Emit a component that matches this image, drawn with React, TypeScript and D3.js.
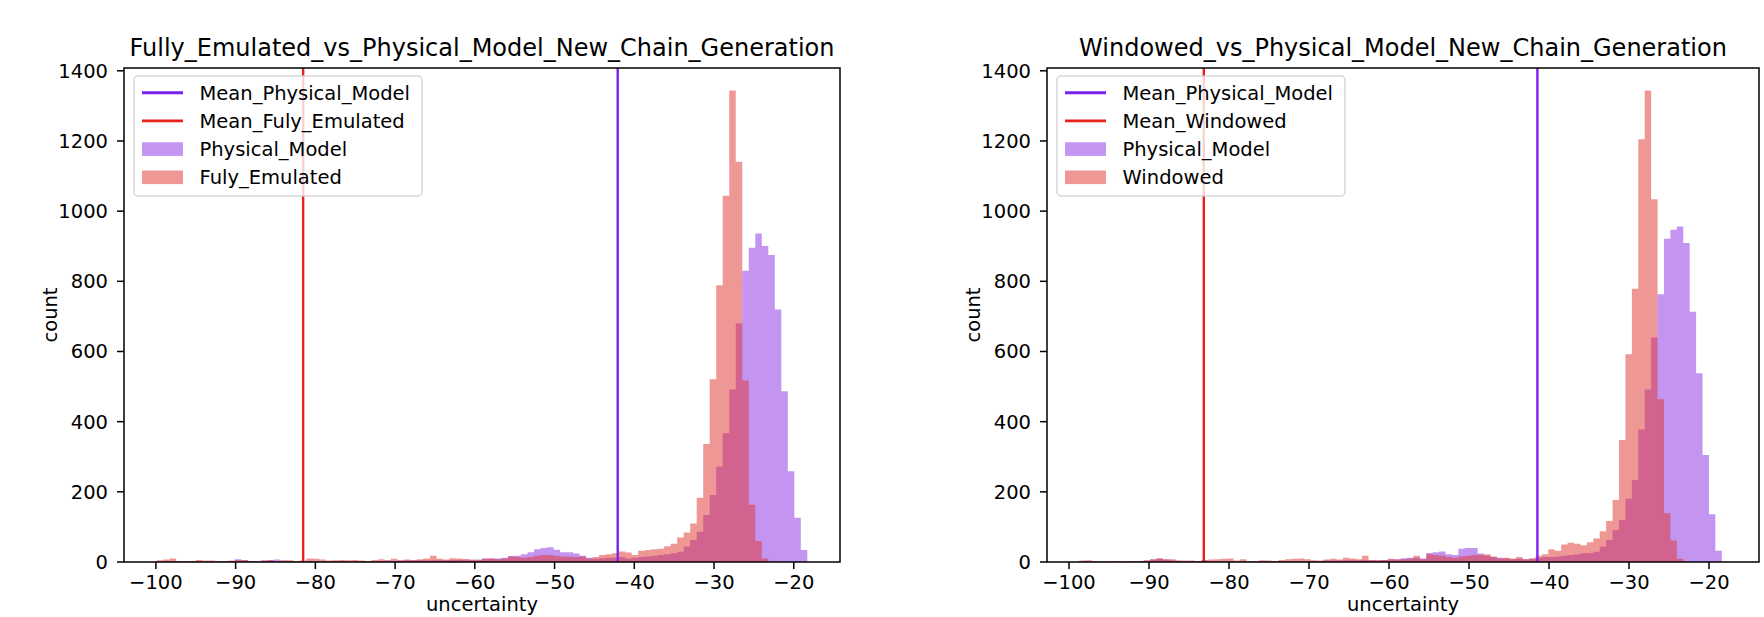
import React from 'react'
import * as d3 from 'd3'

// histogram bin setup (100 bins each panel)
const emulatedBinStart = -99.9
const emulatedBinWidth = 0.816
const windowedBinStart = -98.7
const windowedBinWidth = 0.803

const xTicks = [-100, -90, -80, -70, -60, -50, -40, -30, -20]
const yTicks = [0, 200, 400, 600, 800, 1000, 1200, 1400]

// left panel counts
const physicalLeft = [
  2, 3, 2, 2, 1, 2, 2, 1, 2, 1,
  2, 3, 8, 5, 3, 2, 4, 6, 7, 4,
  3, 2, 2, 3, 2, 2, 3, 2, 2, 2,
  1, 3, 2, 2, 3, 4, 3, 4, 5, 4,
  5, 4, 5, 6, 5, 6, 6, 7, 5, 7,
  10, 9, 10, 12, 17, 18, 22, 28, 36, 40,
  42, 35, 28, 28, 24, 18, 12, 9, 11, 12,
  12, 14, 10, 12, 14, 16, 18, 20, 22, 25,
  29, 44, 63, 86, 134, 191, 272, 367, 492, 680,
  830, 896, 936, 901, 875, 720, 487, 259, 126, 34,
]
const emulated = [
  5, 7, 10, 3, 2, 3, 6, 4, 4, 3,
  3, 4, 5, 6, 3, 2, 4, 5, 3, 4,
  5, 3, 4, 10, 9, 7, 4, 5, 6, 5,
  6, 4, 3, 6, 8, 5, 9, 5, 7, 6,
  8, 10, 18, 9, 7, 11, 10, 8, 7, 5,
  9, 11, 8, 10, 16, 14, 12, 14, 18, 20,
  20, 18, 16, 15, 14, 16, 10, 14, 20, 22,
  25, 30, 27, 20, 32, 34, 36, 38, 45, 52,
  70, 84, 110, 183, 336, 521, 789, 1044, 1344, 1141,
  517, 163, 60, 10, 0, 0, 0, 0, 0, 0,
]

// right panel counts
const physicalRight = [
  1, 1, 1, 1, 1, 1, 1, 1, 2, 2,
  3, 7, 10, 7, 4, 3, 2, 2, 3, 6,
  2, 2, 2, 2, 1, 2, 1, 1, 2, 2,
  2, 2, 3, 3, 3, 3, 3, 3, 4, 4,
  4, 5, 5, 5, 6, 5, 5, 6, 7, 8,
  11, 12, 12, 10, 26, 28, 30, 22, 20, 38,
  40, 40, 24, 18, 14, 12, 10, 8, 9, 8,
  10, 12, 14, 14, 16, 18, 20, 22, 25, 26,
  29, 44, 63, 91, 120, 180, 234, 378, 492, 640,
  763, 921, 947, 956, 909, 713, 538, 305, 136, 32,
]
const windowed = [
  4, 5, 3, 2, 2, 3, 2, 2, 2, 3,
  6, 8, 10, 8, 8, 5, 4, 4, 3, 4,
  7, 8, 9, 10, 4, 8, 3, 3, 5, 4,
  3, 6, 8, 9, 10, 8, 5, 4, 7, 9,
  7, 12, 10, 8, 18, 6, 5, 6, 9, 7,
  8, 9, 18, 8, 22, 20, 18, 14, 12, 16,
  18, 20, 20, 22, 16, 10, 12, 10, 14, 8,
  10, 18, 22, 36, 32, 50, 55, 52, 48, 56,
  67, 88, 117, 177, 348, 592, 779, 1205, 1344, 1034,
  464, 139, 61, 9, 2, 0, 0, 0, 0, 0,
]

const meansLeft = { physical: -42.08, other: -81.53 }
const meansRight = { physical: -41.45, other: -83.15 }

const FONT = 'DejaVu Sans, sans-serif'
const PURPLE = '#8A2BE2'
const PURPLE_LINE = '#7c22ee'
const RED = '#e0302c'
const RED_LINE = '#e8211c'

const fmt = (d: number) => (d < 0 ? '\u2212' + Math.abs(d) : String(d))

const Hist = ({ counts, start, width, x, y, color }: any) => {
  const pts = counts.map((c: number, i: number) => ({ v: start + i * width, c }))
  pts.push({ v: start + counts.length * width, c: 0 })
  const area = d3.area<any>()
    .x(d => x(d.v))
    .y0(y(0))
    .y1(d => y(d.c))
    .curve(d3.curveStepAfter)
  return <path d={area(pts) || ''} fill={color} fillOpacity={0.5} />
}

const Panel = (p: any) => {
  const { left, right, top, bottom, domain, title, binStart, binWidth, physical, other, otherName, means } = p
  const x = d3.scaleLinear().domain(domain).range([left, right])
  const y = d3.scaleLinear().domain([0, 1408]).range([bottom, top])
  const cx = (left + right) / 2
  const legend = [
    { label: 'Mean_Physical_Model', color: PURPLE_LINE, kind: 'line' },
    { label: 'Mean_' + otherName, color: RED_LINE, kind: 'line' },
    { label: 'Physical_Model', color: PURPLE, kind: 'patch' },
    { label: otherName, color: RED, kind: 'patch' },
  ]
  const lx = left + 10
  return (
    <g fontFamily={FONT}>
      <text x={cx} y={56} fontSize={24} textAnchor="middle">{title}</text>

      <Hist counts={physical} start={binStart} width={binWidth} x={x} y={y} color={PURPLE} />
      <Hist counts={other} start={binStart} width={binWidth} x={x} y={y} color={RED} />

      <line x1={x(means.physical)} x2={x(means.physical)} y1={top} y2={bottom} stroke={PURPLE_LINE} strokeWidth={2.4} />
      <line x1={x(means.other)} x2={x(means.other)} y1={top} y2={bottom} stroke={RED_LINE} strokeWidth={2.4} />

      {/* axes frame */}
      <rect x={left} y={top} width={right - left} height={bottom - top} fill="none" stroke="#000" strokeWidth={1.5} />

      {xTicks.map(t => (
        <g key={'x' + t}>
          <line x1={x(t)} x2={x(t)} y1={bottom} y2={bottom + 7} stroke="#000" strokeWidth={1.5} />
          <text x={x(t)} y={589} fontSize={19.5} textAnchor="middle">{fmt(t)}</text>
        </g>
      ))}
      {yTicks.map(t => (
        <g key={'y' + t}>
          <line x1={left - 7} x2={left} y1={y(t)} y2={y(t)} stroke="#000" strokeWidth={1.5} />
          <text x={left - 16} y={y(t) + 7} fontSize={19.5} textAnchor="end">{t}</text>
        </g>
      ))}
      <text x={cx} y={611} fontSize={19.5} textAnchor="middle">uncertainty</text>
      <text transform={`translate(${left - 74},${(top + bottom) / 2}) rotate(-90)`} fontSize={19.5} textAnchor="middle" dominantBaseline="central">count</text>

      {/* legend */}
      <rect x={lx} y={top + 8} width={288} height={120} rx={4} fill="#fff" fillOpacity={0.8} stroke="#ccc" strokeOpacity={0.8} strokeWidth={1.5} />
      {legend.map((d, i) => {
        const ry = top + 24.7 + i * 28.2
        return (
          <g key={d.label}>
            {d.kind === 'line'
              ? <line x1={lx + 8} x2={lx + 49} y1={ry} y2={ry} stroke={d.color} strokeWidth={2.9} />
              : <rect x={lx + 8} y={ry - 6.8} width={41} height={13.6} fill={d.color} fillOpacity={0.5} />}
            <text x={lx + 65.5} y={ry + 7} fontSize={19.5}>{d.label}</text>
          </g>
        )
      })}
    </g>
  )
}

export default function App() {
  return (
    <svg width={1764} height={617} style={{ position: 'absolute', left: 0, top: 0, background: '#fff' }}>
      <rect width={1764} height={617} fill="#fff" />
      <Panel
        left={124} right={840} top={68} bottom={562}
        domain={[-104.0, -14.2]}
        title="Fully_Emulated_vs_Physical_Model_New_Chain_Generation"
        binStart={emulatedBinStart} binWidth={emulatedBinWidth}
        physical={physicalLeft} other={emulated}
        otherName="Fuly_Emulated" means={meansLeft}
      />
      <Panel
        left={1047} right={1759} top={68} bottom={562}
        domain={[-102.75, -13.75]}
        title="Windowed_vs_Physical_Model_New_Chain_Generation"
        binStart={windowedBinStart} binWidth={windowedBinWidth}
        physical={physicalRight} other={windowed}
        otherName="Windowed" means={meansRight}
      />
    </svg>
  )
}
